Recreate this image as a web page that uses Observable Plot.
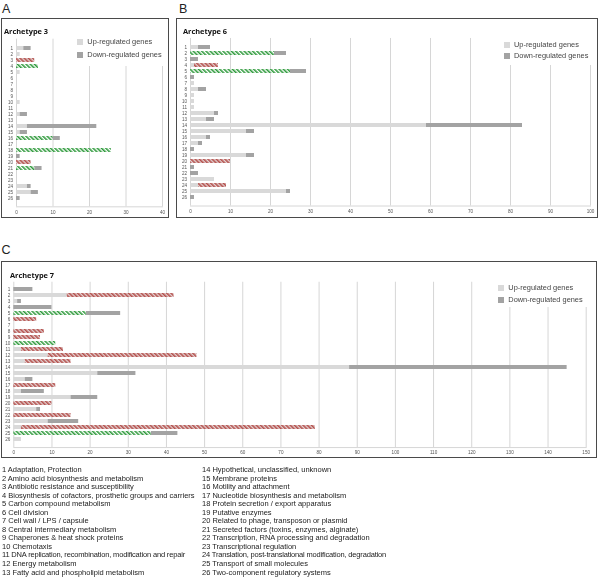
<!DOCTYPE html>
<html><head><meta charset="utf-8">
<script src="https://cdn.jsdelivr.net/npm/d3@7"></script>
<script src="https://cdn.jsdelivr.net/npm/@observablehq/plot@0.6"></script>
<style>
body{margin:0;background:#fff;}
#page{position:relative;width:600px;height:578px;overflow:hidden;font-family:"Liberation Sans",Arial,sans-serif;color:#222;}
.box{position:absolute;border:1.6px solid #4a4a4a;box-sizing:border-box;}
.plabel{position:absolute;font-size:12.5px;line-height:1;color:#222;}
.title{position:absolute;font-family:"Open Sans",sans-serif;font-weight:bold;font-size:7.4px;line-height:1;color:#111;white-space:nowrap;will-change:transform;}
.legend{position:absolute;background:#fff;font-size:7.4px;color:#444;will-change:transform;}
.legend .item{position:absolute;white-space:nowrap;line-height:1;}
.sw{position:absolute;width:6px;height:6px;}
.foot{position:absolute;font-size:7.5px;line-height:8.55px;color:#222;white-space:nowrap;will-change:transform;}
.cond{letter-spacing:-0.17px;}
</style></head>
<body>
<div id="page">
<svg width="0" height="0" style="position:absolute">
<defs>
<pattern id="hatchRed" patternUnits="userSpaceOnUse" width="3" height="3" patternTransform="rotate(-45)">
<rect width="3" height="3" fill="#e2d2d2"></rect><rect width="1.6" height="3" fill="#b5504c"></rect>
</pattern>
<pattern id="hatchGreen" patternUnits="userSpaceOnUse" width="3" height="3" patternTransform="rotate(-45)">
<rect width="3" height="3" fill="#ffffff"></rect><rect width="1.6" height="3" fill="#2f9a3c"></rect>
</pattern>
</defs>
</svg>
</div>
<script>
// ---- data ----
const rows = d3.range(1, 27);
const categoryNames = [
  "Adaptation, Protection",
  "Amino acid biosynthesis and metabolism",
  "Antibiotic resistance and susceptibility",
  "Biosynthesis of cofactors, prosthetic groups and carriers",
  "Carbon compound metabolism",
  "Cell division",
  "Cell wall / LPS / capsule",
  "Central intermediary metabolism",
  "Chaperones & heat shock proteins",
  "Chemotaxis",
  "DNA replication, recombination, modification and repair",
  "Energy metabolism",
  "Fatty acid and phospholipid metabolism",
  "Hypothetical, unclassified, unknown",
  "Membrane proteins",
  "Motility and attachment",
  "Nucleotide biosynthesis and metabolism",
  "Protein secretion / export apparatus",
  "Putative enzymes",
  "Related to phage, transposon or plasmid",
  "Secreted factors (toxins, enzymes, alginate)",
  "Transcription, RNA processing and degradation",
  "Transcriptional regulation",
  "Translation, post-translational modification, degradation",
  "Transport of small molecules",
  "Two-component regulatory systems"
];
const condensedRows = [11, 24];
const seriesNames = ["Up-regulated genes", "Down-regulated genes"];

// Archetype 3
const a3Up   = [2,1,0,6,1,0,0,0,0,1,0,1,0,3,1,10,0,26,0,0,5,0,0,3,4,0];
const a3Down = [2,0,5,0,0,0,0,0,0,0,0,2,0,19,2,2,0,0,1,4,2,0,0,1,2,1];
const a3Green = [4,16,18,21];
const a3Red = [3,20];
const a3Ticks = [0,10,20,30,40];

// Archetype 6
const a6Up   = [2,21,0,1,25,0,1,2,1,1,1,6,4,59,14,4,2,0,14,0,0,0,6,2,24,0];
const a6Down = [3,3,2,6,4,1,0,2,0,0,0,1,2,24,2,1,1,1,2,10,1,2,0,7,1,1];
const a6Green = [2,5];
const a6Red = [4,20,24];
const a6Ticks = [0,10,20,30,40,50,60,70,80,90,100];

// Archetype 7
const a7Up   = [0,14,1,0,19,0,0,0,0,11,2,9,3,88,22,3,0,2,15,0,6,0,9,2,36,2];
const a7Down = [5,28,1,10,9,6,0,8,7,0,11,39,12,57,10,2,11,6,7,10,1,15,8,77,7,0];
const a7Green = [5,10,25];
const a7Red = [2,6,8,9,11,12,13,17,20,22,24];
const a7Ticks = [0,10,20,30,40,50,60,70,80,90,100,110,120,130,140,150];

const UP_COLOR = "#d9d9d9", DOWN_COLOR = "#a3a3a3";

const page = document.getElementById("page");
function el(cls, css, html) {
  const d = document.createElement("div");
  d.className = cls;
  Object.assign(d.style, css);
  if (html != null) d.innerHTML = html;
  page.appendChild(d);
  return d;
}

function panel(cfg) {
  const {left, top, width, height, x0, x1, ticks, yTop, yBot, up, down, green, red} = cfg;
  const xMax = ticks[ticks.length - 1];
  const segs = [];
  rows.forEach((r, i) => {
    if (up[i] > 0) segs.push({row: r, a: 0, b: up[i], kind: green.includes(r) ? "g" : "u"});
    if (down[i] > 0) segs.push({row: r, a: up[i], b: up[i] + down[i], kind: red.includes(r) ? "r" : "d"});
  });
  const p = 0.36;
  const step = (yBot - yTop) / 25;
  const r0 = yTop - step * (1 + p) / 2, r1 = yBot + step * (1 + p) / 2;
  const svg = Plot.plot({
    width, height,
    marginLeft: x0 - left, marginRight: left + width - x1,
    marginTop: r0 - top, marginBottom: top + height - r1,
    style: {background: "none", overflow: "visible", fontFamily: "Liberation Sans, Arial, sans-serif", fontSize: "4.6px", color: "#555"},
    x: {domain: [0, xMax], ticks, tickSize: 0, tickPadding: 3.5, label: null, tickFormat: d => String(d)},
    y: {domain: rows, padding: p, tickSize: 0, tickPadding: 3.5, label: null, tickFormat: d => String(d)},
    marks: [
      Plot.ruleX(ticks, {stroke: "#d6d6d6", strokeWidth: 1}),
      Plot.frame({anchor: "bottom", stroke: "#d6d6d6"}),
      Plot.barX(segs.filter(d => d.kind === "u"), {x1: "a", x2: "b", y: "row", fill: UP_COLOR}),
      Plot.barX(segs.filter(d => d.kind === "d"), {x1: "a", x2: "b", y: "row", fill: DOWN_COLOR}),
      Plot.barX(segs.filter(d => d.kind === "g"), {x1: "a", x2: "b", y: "row", fill: "url(#hatchGreen)"}),
      Plot.barX(segs.filter(d => d.kind === "r"), {x1: "a", x2: "b", y: "row", fill: "url(#hatchRed)"})
    ]
  });
  svg.style.position = "absolute";
  svg.style.left = left + "px";
  svg.style.top = top + "px";
  page.appendChild(svg);
}

function legend(cfg) {
  const {left, top, width, height, sx, tx, yUp, yDown} = cfg;
  const lg = el("legend", {left: left + "px", top: top + "px", width: width + "px", height: height + "px"});
  [[yUp, UP_COLOR, seriesNames[0]], [yDown, DOWN_COLOR, seriesNames[1]]].forEach(([y, c, t]) => {
    const s = document.createElement("div");
    s.className = "sw";
    Object.assign(s.style, {left: (sx - left) + "px", top: (y - 3 - top) + "px", background: c});
    lg.appendChild(s);
    const tt = document.createElement("div");
    tt.className = "item";
    tt.textContent = t;
    Object.assign(tt.style, {left: (tx - left) + "px", top: (y - 3.9 - top) + "px"});
    lg.appendChild(tt);
  });
}

// panel labels
el("plabel", {left: "2px", top: "3px"}, "A");
el("plabel", {left: "179px", top: "3px"}, "B");
el("plabel", {left: "1.5px", top: "244px"}, "C");

// boxes
el("box", {left: "1px", top: "18px", width: "168px", height: "200px"});
el("box", {left: "176px", top: "18px", width: "422px", height: "200px"});
el("box", {left: "1px", top: "260.5px", width: "595.5px", height: "197.5px"});

// titles
el("title", {left: "4px", top: "27.5px"}, "Archetype 3");
el("title", {left: "183px", top: "27.5px"}, "Archetype 6");
el("title", {left: "10px", top: "272px"}, "Archetype 7");

// plots
panel({left: 2, top: 20, width: 165, height: 197, x0: 16, x1: 162, ticks: a3Ticks,
  yTop: 43, yBot: 202, up: a3Up, down: a3Down, green: a3Green, red: a3Red});
panel({left: 178, top: 20, width: 418, height: 197, x0: 190, x1: 590, ticks: a6Ticks,
  yTop: 42.3, yBot: 201.2, up: a6Up, down: a6Down, green: a6Green, red: a6Red});
panel({left: 3, top: 262, width: 592, height: 195, x0: 13.3, x1: 585.7, ticks: a7Ticks,
  yTop: 286, yBot: 442.8, up: a7Up, down: a7Down, green: a7Green, red: a7Red});

// legends
legend({left: 75, top: 36, width: 92, height: 30, sx: 77, tx: 87.3, yUp: 42.2, yDown: 54.5});
legend({left: 500, top: 37, width: 96, height: 28, sx: 504, tx: 514, yUp: 44.5, yDown: 56.2});
legend({left: 495, top: 280, width: 99, height: 27, sx: 498.3, tx: 508.3, yUp: 287.8, yDown: 300});

// footnote
function line(n, i) {
  const t = n + " " + categoryNames[i];
  return condensedRows.includes(n) ? '<span class="cond">' + t + '</span>' : t;
}
const leftCol = rows.slice(0, 13).map((n) => line(n, n - 1)).join("<br>");
const rightCol = rows.slice(13).map((n) => line(n, n - 1)).join("<br>");
el("foot", {left: "2px", top: "466.4px"}, leftCol);
el("foot", {left: "202px", top: "466.4px"}, rightCol);
</script>
</body></html>
